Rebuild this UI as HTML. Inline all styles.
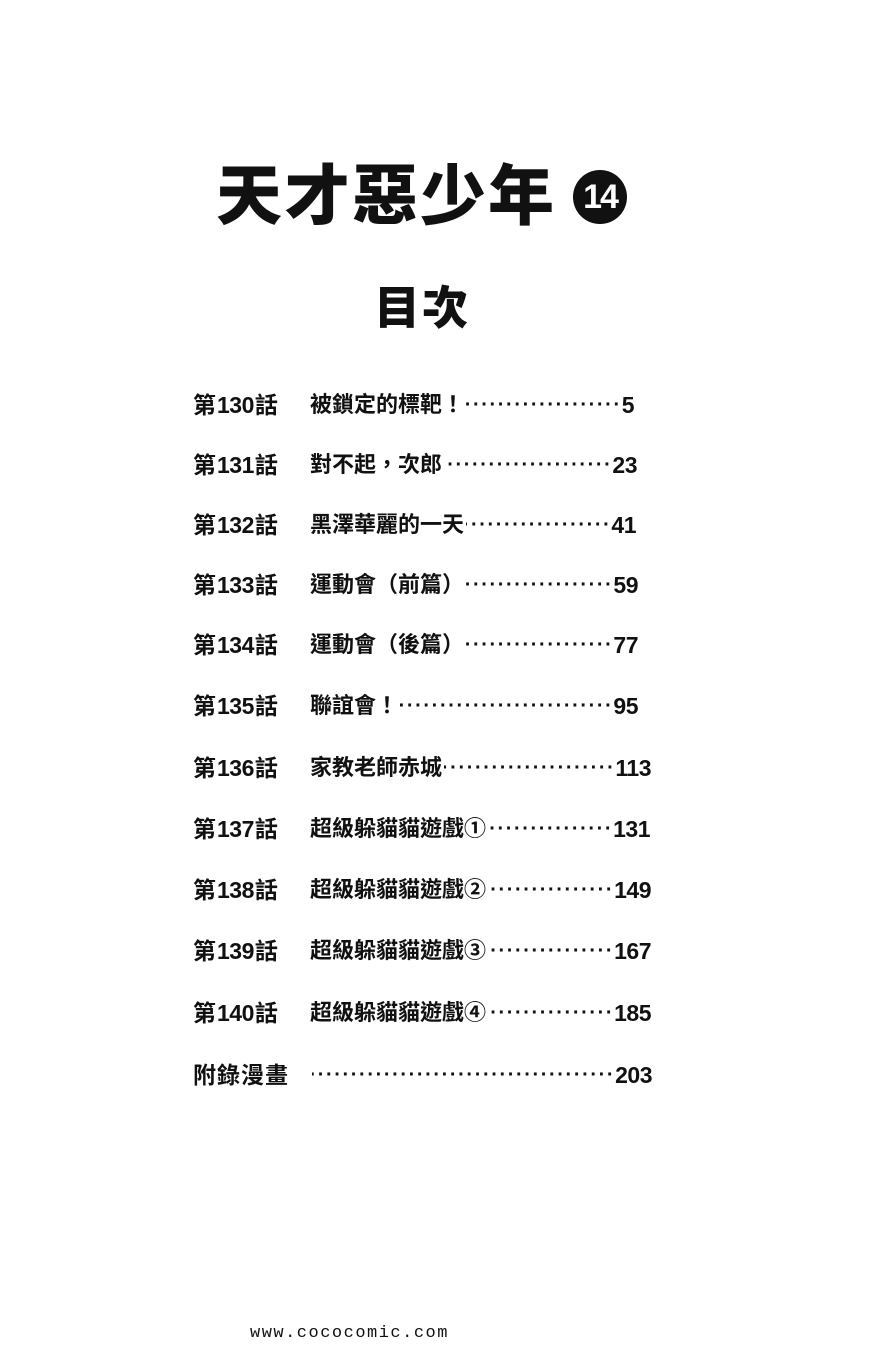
<!DOCTYPE html>
<html><head><meta charset="utf-8"><style>
body{margin:0;width:873px;height:1350px;background:#fff;position:relative;overflow:hidden;font-family:"Liberation Sans","Noto Sans CJK TC",sans-serif;color:#111}
.t{position:absolute;font-weight:900}
.lab{position:absolute;left:193px;font-size:23px;font-weight:bold;line-height:30px;white-space:nowrap}
.lab b{letter-spacing:-0.5px;font-size:23px;margin:0 1px}
.row{position:absolute;left:310px;display:flex;font-size:22px;font-weight:bold;line-height:30px;white-space:nowrap}
.d{flex:1;overflow:hidden;letter-spacing:1.6px;font-size:20px;font-weight:900;text-align:right;direction:rtl;margin-left:2px}
.n{letter-spacing:-0.5px;font-size:23px}
</style></head><body>
<div class="t" style="left:216px;top:160px;font-size:66px;letter-spacing:2px;line-height:72px">天才惡少年</div>
<div style="position:absolute;left:573px;top:170px;width:54px;height:54px;border-radius:50%;background:#111;color:#fff;font-weight:bold;font-size:34px;line-height:54px;text-align:center;letter-spacing:-2px">14</div>
<div class="t" style="left:374px;top:280px;font-size:46px;line-height:56px;letter-spacing:2px">目次</div>

<div class="lab" style="top:390px">第<b>130</b>話</div><div class="row" style="top:390px;width:324px"><span>被鎖定的標靶！</span><span class="d">··························································</span><span class="n">5</span></div>
<div class="lab" style="top:450px">第<b>131</b>話</div><div class="row" style="top:450px;width:327px"><span>對不起，次郎</span><span class="d">··························································</span><span class="n">23</span></div>
<div class="lab" style="top:510px">第<b>132</b>話</div><div class="row" style="top:510px;width:326px"><span>黑澤華麗的一天</span><span class="d">··························································</span><span class="n">41</span></div>
<div class="lab" style="top:570px">第<b>133</b>話</div><div class="row" style="top:570px;width:328px"><span>運動會（前篇）</span><span class="d">··························································</span><span class="n">59</span></div>
<div class="lab" style="top:630px">第<b>134</b>話</div><div class="row" style="top:630px;width:328px"><span>運動會（後篇）</span><span class="d">··························································</span><span class="n">77</span></div>
<div class="lab" style="top:691px">第<b>135</b>話</div><div class="row" style="top:691px;width:328px"><span>聯誼會！</span><span class="d">··························································</span><span class="n">95</span></div>
<div class="lab" style="top:753px">第<b>136</b>話</div><div class="row" style="top:753px;width:341px"><span>家教老師赤城</span><span class="d">··························································</span><span class="n">113</span></div>
<div class="lab" style="top:814px">第<b>137</b>話</div><div class="row" style="top:814px;width:340px"><span>超級躲貓貓遊戲①</span><span class="d">··························································</span><span class="n">131</span></div>
<div class="lab" style="top:875px">第<b>138</b>話</div><div class="row" style="top:875px;width:341px"><span>超級躲貓貓遊戲②</span><span class="d">··························································</span><span class="n">149</span></div>
<div class="lab" style="top:936px">第<b>139</b>話</div><div class="row" style="top:936px;width:341px"><span>超級躲貓貓遊戲③</span><span class="d">··························································</span><span class="n">167</span></div>
<div class="lab" style="top:998px">第<b>140</b>話</div><div class="row" style="top:998px;width:341px"><span>超級躲貓貓遊戲④</span><span class="d">··························································</span><span class="n">185</span></div>
<div class="lab" style="top:1060px;letter-spacing:1px">附錄漫畫</div><div class="row" style="top:1060px;width:342px"><span class="d">··························································</span><span class="n">203</span></div>

<div style="position:absolute;left:250px;top:1324px;font-family:'Liberation Mono',monospace;font-size:17px;letter-spacing:1.5px">www.cococomic.com</div>
</body></html>
